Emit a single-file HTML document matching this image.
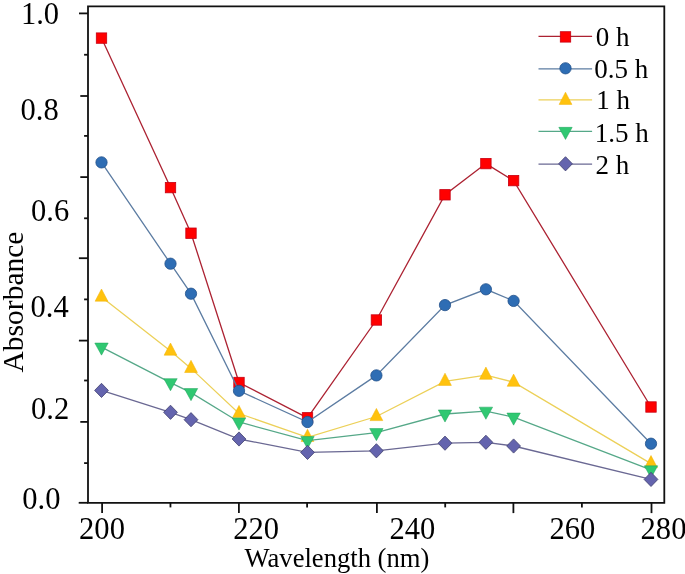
<!DOCTYPE html>
<html><head><meta charset="utf-8"><style>
html,body{margin:0;padding:0;background:#fff;}
svg{display:block;}
text{font-family:"Liberation Serif",serif;fill:#000;}
svg{will-change:transform;}
</style></head><body>
<svg width="685" height="574" viewBox="0 0 685 574">
<g stroke="#111" stroke-width="1.8" fill="none">
<path d="M88,502.8 V6.3 H664.3 V502.8 Z"/>
<path d="M78.7,502.8 H88"/>
<path d="M79.0,13.40 H88"/>
<path d="M84.1,54.75 H88"/>
<path d="M80.3,96.00 H88"/>
<path d="M84.1,135.90 H88"/>
<path d="M80.3,177.10 H88"/>
<path d="M84.1,218.30 H88"/>
<path d="M78.9,258.20 H88"/>
<path d="M84.1,299.40 H88"/>
<path d="M78.9,340.60 H88"/>
<path d="M84.1,380.50 H88"/>
<path d="M80.3,421.90 H88"/>
<path d="M84.1,463.10 H88"/>
<path d="M102.10,502.8 V513.1"/>
<path d="M170.45,502.8 V507.4"/>
<path d="M238.90,502.8 V513.1"/>
<path d="M307.10,502.8 V507.4"/>
<path d="M376.90,502.8 V513.1"/>
<path d="M445.20,502.8 V507.4"/>
<path d="M513.40,502.8 V513.1"/>
<path d="M581.90,502.8 V507.4"/>
<path d="M651.50,502.8 V513.1"/>
</g>
<polyline points="101.50,38.10 170.50,187.60 191.00,233.20 239.00,382.50 307.50,417.80 376.40,320.00 445.00,194.80 485.90,163.60 513.60,180.60 651.00,407.00" fill="none" stroke="#AC2232" stroke-width="1.3"/>
<rect x="96.30" y="32.90" width="10.4" height="10.4" fill="#FF0000" stroke="#C80012" stroke-width="0.8"/>
<rect x="165.30" y="182.40" width="10.4" height="10.4" fill="#FF0000" stroke="#C80012" stroke-width="0.8"/>
<rect x="185.80" y="228.00" width="10.4" height="10.4" fill="#FF0000" stroke="#C80012" stroke-width="0.8"/>
<rect x="233.80" y="377.30" width="10.4" height="10.4" fill="#FF0000" stroke="#C80012" stroke-width="0.8"/>
<rect x="302.30" y="412.60" width="10.4" height="10.4" fill="#FF0000" stroke="#C80012" stroke-width="0.8"/>
<rect x="371.20" y="314.80" width="10.4" height="10.4" fill="#FF0000" stroke="#C80012" stroke-width="0.8"/>
<rect x="439.80" y="189.60" width="10.4" height="10.4" fill="#FF0000" stroke="#C80012" stroke-width="0.8"/>
<rect x="480.70" y="158.40" width="10.4" height="10.4" fill="#FF0000" stroke="#C80012" stroke-width="0.8"/>
<rect x="508.40" y="175.40" width="10.4" height="10.4" fill="#FF0000" stroke="#C80012" stroke-width="0.8"/>
<rect x="645.80" y="401.80" width="10.4" height="10.4" fill="#FF0000" stroke="#C80012" stroke-width="0.8"/>
<polyline points="101.50,162.40 170.50,263.70 191.00,293.70 239.00,390.80 307.50,422.00 376.40,375.40 445.00,305.10 485.90,289.30 513.60,300.90 651.00,443.70" fill="none" stroke="#5C7CA2" stroke-width="1.3"/>
<circle cx="101.50" cy="162.40" r="5.65" fill="#2E6DB4" stroke="#22508A" stroke-width="0.8"/>
<circle cx="170.50" cy="263.70" r="5.65" fill="#2E6DB4" stroke="#22508A" stroke-width="0.8"/>
<circle cx="191.00" cy="293.70" r="5.65" fill="#2E6DB4" stroke="#22508A" stroke-width="0.8"/>
<circle cx="239.00" cy="390.80" r="5.65" fill="#2E6DB4" stroke="#22508A" stroke-width="0.8"/>
<circle cx="307.50" cy="422.00" r="5.65" fill="#2E6DB4" stroke="#22508A" stroke-width="0.8"/>
<circle cx="376.40" cy="375.40" r="5.65" fill="#2E6DB4" stroke="#22508A" stroke-width="0.8"/>
<circle cx="445.00" cy="305.10" r="5.65" fill="#2E6DB4" stroke="#22508A" stroke-width="0.8"/>
<circle cx="485.90" cy="289.30" r="5.65" fill="#2E6DB4" stroke="#22508A" stroke-width="0.8"/>
<circle cx="513.60" cy="300.90" r="5.65" fill="#2E6DB4" stroke="#22508A" stroke-width="0.8"/>
<circle cx="651.00" cy="443.70" r="5.65" fill="#2E6DB4" stroke="#22508A" stroke-width="0.8"/>
<polyline points="101.50,297.10 170.50,351.10 191.00,368.40 239.00,413.50 307.50,437.30 376.40,416.50 445.00,381.30 485.90,375.20 513.60,382.20 651.00,463.60" fill="none" stroke="#ECD058" stroke-width="1.3"/>
<polygon points="101.50,289.00 107.90,301.20 95.10,301.20" fill="#FFC20E" stroke="#F0B000" stroke-width="0.5"/>
<polygon points="170.50,343.00 176.90,355.20 164.10,355.20" fill="#FFC20E" stroke="#F0B000" stroke-width="0.5"/>
<polygon points="191.00,360.30 197.40,372.50 184.60,372.50" fill="#FFC20E" stroke="#F0B000" stroke-width="0.5"/>
<polygon points="239.00,405.40 245.40,417.60 232.60,417.60" fill="#FFC20E" stroke="#F0B000" stroke-width="0.5"/>
<polygon points="307.50,429.20 313.90,441.40 301.10,441.40" fill="#FFC20E" stroke="#F0B000" stroke-width="0.5"/>
<polygon points="376.40,408.40 382.80,420.60 370.00,420.60" fill="#FFC20E" stroke="#F0B000" stroke-width="0.5"/>
<polygon points="445.00,373.20 451.40,385.40 438.60,385.40" fill="#FFC20E" stroke="#F0B000" stroke-width="0.5"/>
<polygon points="485.90,367.10 492.30,379.30 479.50,379.30" fill="#FFC20E" stroke="#F0B000" stroke-width="0.5"/>
<polygon points="513.60,374.10 520.00,386.30 507.20,386.30" fill="#FFC20E" stroke="#F0B000" stroke-width="0.5"/>
<polygon points="651.00,455.50 657.40,467.70 644.60,467.70" fill="#FFC20E" stroke="#F0B000" stroke-width="0.5"/>
<polyline points="101.50,347.10 170.50,382.70 191.00,392.60 239.00,422.00 307.50,440.60 376.40,432.60 445.00,414.00 485.90,411.20 513.60,417.10 651.00,469.90" fill="none" stroke="#55A888" stroke-width="1.3"/>
<polygon points="94.80,343.05 108.20,343.05 101.50,355.15" fill="#30C872" stroke="#1FA05A" stroke-width="0.5"/>
<polygon points="163.80,378.65 177.20,378.65 170.50,390.75" fill="#30C872" stroke="#1FA05A" stroke-width="0.5"/>
<polygon points="184.30,388.55 197.70,388.55 191.00,400.65" fill="#30C872" stroke="#1FA05A" stroke-width="0.5"/>
<polygon points="232.30,417.95 245.70,417.95 239.00,430.05" fill="#30C872" stroke="#1FA05A" stroke-width="0.5"/>
<polygon points="300.80,436.55 314.20,436.55 307.50,448.65" fill="#30C872" stroke="#1FA05A" stroke-width="0.5"/>
<polygon points="369.70,428.55 383.10,428.55 376.40,440.65" fill="#30C872" stroke="#1FA05A" stroke-width="0.5"/>
<polygon points="438.30,409.95 451.70,409.95 445.00,422.05" fill="#30C872" stroke="#1FA05A" stroke-width="0.5"/>
<polygon points="479.20,407.15 492.60,407.15 485.90,419.25" fill="#30C872" stroke="#1FA05A" stroke-width="0.5"/>
<polygon points="506.90,413.05 520.30,413.05 513.60,425.15" fill="#30C872" stroke="#1FA05A" stroke-width="0.5"/>
<polygon points="644.30,465.85 657.70,465.85 651.00,477.95" fill="#30C872" stroke="#1FA05A" stroke-width="0.5"/>
<polyline points="101.50,390.40 170.50,412.30 191.00,419.70 239.00,439.00 307.50,452.40 376.40,450.80 445.00,443.20 485.90,442.30 513.60,446.00 651.00,479.40" fill="none" stroke="#6A6893" stroke-width="1.3"/>
<polygon points="101.50,383.30 108.40,390.40 101.50,397.50 94.60,390.40" fill="#6464AE" stroke="#40406F" stroke-width="0.8"/>
<polygon points="170.50,405.20 177.40,412.30 170.50,419.40 163.60,412.30" fill="#6464AE" stroke="#40406F" stroke-width="0.8"/>
<polygon points="191.00,412.60 197.90,419.70 191.00,426.80 184.10,419.70" fill="#6464AE" stroke="#40406F" stroke-width="0.8"/>
<polygon points="239.00,431.90 245.90,439.00 239.00,446.10 232.10,439.00" fill="#6464AE" stroke="#40406F" stroke-width="0.8"/>
<polygon points="307.50,445.30 314.40,452.40 307.50,459.50 300.60,452.40" fill="#6464AE" stroke="#40406F" stroke-width="0.8"/>
<polygon points="376.40,443.70 383.30,450.80 376.40,457.90 369.50,450.80" fill="#6464AE" stroke="#40406F" stroke-width="0.8"/>
<polygon points="445.00,436.10 451.90,443.20 445.00,450.30 438.10,443.20" fill="#6464AE" stroke="#40406F" stroke-width="0.8"/>
<polygon points="485.90,435.20 492.80,442.30 485.90,449.40 479.00,442.30" fill="#6464AE" stroke="#40406F" stroke-width="0.8"/>
<polygon points="513.60,438.90 520.50,446.00 513.60,453.10 506.70,446.00" fill="#6464AE" stroke="#40406F" stroke-width="0.8"/>
<polygon points="651.00,472.30 657.90,479.40 651.00,486.50 644.10,479.40" fill="#6464AE" stroke="#40406F" stroke-width="0.8"/>
<path d="M538.5,36.3 H592.1" stroke="#AC2232" stroke-width="1.3"/>
<rect x="560.30" y="31.70" width="10.4" height="10.4" fill="#FF0000" stroke="#C80012" stroke-width="0.8"/>
<path d="M538.5,68.8 H592.1" stroke="#5C7CA2" stroke-width="1.3"/>
<circle cx="565.50" cy="68.30" r="5.65" fill="#2E6DB4" stroke="#22508A" stroke-width="0.8"/>
<path d="M538.5,99.8 H592.1" stroke="#ECD058" stroke-width="1.3"/>
<polygon points="565.50,92.20 571.90,104.40 559.10,104.40" fill="#FFC20E" stroke="#F0B000" stroke-width="0.5"/>
<path d="M538.5,131.3 H592.1" stroke="#55A888" stroke-width="1.3"/>
<polygon points="558.80,127.35 572.20,127.35 565.50,139.45" fill="#30C872" stroke="#1FA05A" stroke-width="0.5"/>
<path d="M538.5,164.1 H592.1" stroke="#6A6893" stroke-width="1.3"/>
<polygon points="565.50,156.70 572.40,163.80 565.50,170.90 558.60,163.80" fill="#6464AE" stroke="#40406F" stroke-width="0.8"/>
<text transform="translate(59.14,23.92) scale(0.955,1)" font-size="32" text-anchor="end">1.0</text>
<text transform="translate(58.70,119.70) scale(0.955,1)" font-size="32" text-anchor="end">0.8</text>
<text transform="translate(69.24,221.30) scale(0.955,1)" font-size="32" text-anchor="end">0.6</text>
<text transform="translate(68.76,316.58) scale(0.955,1)" font-size="32" text-anchor="end">0.4</text>
<text transform="translate(69.26,419.48) scale(0.955,1)" font-size="32" text-anchor="end">0.2</text>
<text transform="translate(60.42,509.08) scale(0.955,1)" font-size="32" text-anchor="end">0.0</text>
<text transform="translate(79.10,539.24) scale(0.955,1)" font-size="32">200</text>
<text transform="translate(233.14,539.10) scale(0.955,1)" font-size="32">220</text>
<text transform="translate(389.46,539.42) scale(0.955,1)" font-size="32">240</text>
<text transform="translate(549.56,538.90) scale(0.955,1)" font-size="32">260</text>
<text transform="translate(640.60,538.74) scale(0.955,1)" font-size="32">280</text>
<text transform="translate(595.82,45.66)" font-size="27">0 h</text>
<text transform="translate(594.14,78.12)" font-size="27">0.5 h</text>
<text transform="translate(596.30,109.16)" font-size="27">1 h</text>
<text transform="translate(594.78,141.62)" font-size="27">1.5 h</text>
<text transform="translate(595.42,173.66)" font-size="27">2 h</text>
<text transform="translate(244.58,566.66)" font-size="26.6">Wavelength (nm)</text>
<text transform="translate(23.00,372.48) rotate(-90)" font-size="29.5">Absorbance</text>
</svg>
</body></html>
